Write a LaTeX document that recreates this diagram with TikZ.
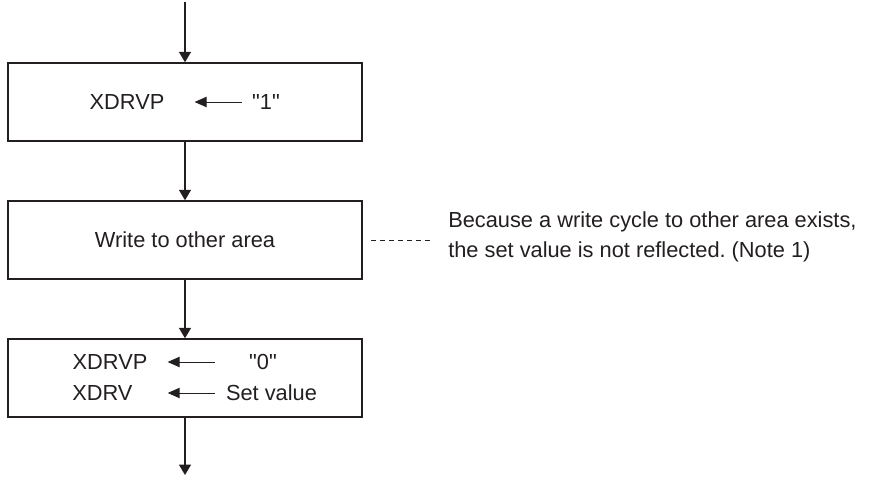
\documentclass[tikz,border=0pt]{standalone}
\usepackage{fontspec}
\setmainfont{Liberation Sans}[Ligatures=TeXOff]
\usetikzlibrary{positioning,arrows.meta}
\usepackage{xcolor}
\definecolor{ink}{HTML}{231F20}
\frenchspacing

\begin{document}
\begin{tikzpicture}[x=0.025cm, y=-0.025cm, every node/.style={font=\fontsize{15.5}{21}\selectfont, text=ink}, box/.style={draw=ink, line width=1pt, minimum width=8.85cm, minimum height=1.95cm, inner sep=0pt}, txt/.style={inner sep=0pt}, flow/.style={-{Triangle[length=2.6mm, width=3mm]}, draw=ink, line width=0.8pt}, assign/.style={-{Triangle[length=3mm, width=2.6mm]}, draw=ink, line width=0.7pt}, noteline/.style={draw=ink, line width=0.7pt, dash pattern=on 3.6pt off 2.8pt}]
\useasboundingbox (0,0) rectangle (870,484);
\coordinate (start) at (185,2);
\node[box] (setflag) at (185,102) {};
\node[box] (other) at (185,240) {Write to other area};
\node[box] (load) at (185,378) {};
\coordinate (finish) at (185,475);
% first box
\node[txt] (reg1) at (127,102) {XDRVP};
\node[txt] (one) at (266,102) {"1"};
\draw[assign, shorten <=0.25cm, shorten >=0.75cm] (one.west) -- (reg1.east);
% third box
\node[txt] (reg2) at (110,362) {XDRVP};
\node[txt, anchor=west] (reg3) at (72,393) {XDRV};
\node[txt] (zero) at (263,362) {"0"};
\node[txt] (setval) at (271.5,393) {Set value};
\draw[assign, shorten <=0.85cm, shorten >=0.5cm] (zero.west) -- (reg2.east);
\draw[assign, shorten <=0.275cm, shorten >=0.875cm] (setval.west) -- (reg3.east);
% note
\node[txt, anchor=west, align=left] (note) at (448,237) {Because a write cycle to other area exists,\\the set value is not reflected. (Note 1)};
\draw[noteline, shorten <=0.2cm, shorten >=0.4cm] (other.east) -- (other.east -| note.west);
% flow
\draw[flow] (start) -- (setflag);
\draw[flow] (setflag) -- (other);
\draw[flow] (other) -- (load);
\draw[flow] (load) -- (finish);
\end{tikzpicture}
\end{document}
